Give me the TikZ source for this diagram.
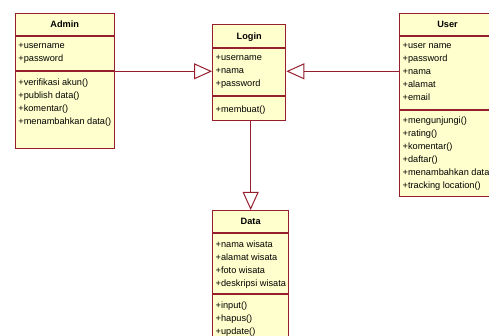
\documentclass[tikz,border=0pt]{standalone}
\usepackage{fontspec}
\setmainfont{Liberation Sans}
\usetikzlibrary{arrows.meta, positioning}
\definecolor{classfill}{RGB}{255,255,206}
\definecolor{classline}{RGB}{150,30,45}

\begin{document}
\begin{tikzpicture}[x=1pt, y=-1pt, font=\fontsize{9.2}{13}\selectfont,
    part/.style={rectangle, draw=classline, fill=classfill, line width=1pt, inner sep=0pt},
    head/.style={part, font=\fontsize{9.2}{13}\selectfont\bfseries, text height=6.5pt, text depth=0pt, anchor=north west},
    members/.style={anchor=north west, align=left, inner xsep=3.5pt, inner ysep=7pt, execute at begin node=\strut},
    gen/.style={draw=classline, line width=1pt, -{Triangle[length=18pt, width=16pt, fill=white]}}]
  \useasboundingbox (0,0) rectangle (489,336);

  % Admin
  \node[head, minimum width=99pt, minimum height=22pt] (adminH) at (14.7,12.7) {Admin};
  \node[part, minimum width=99pt, minimum height=34.6pt, below=0pt of adminH] (adminA) {};
  \node[part, minimum width=99pt, minimum height=76.4pt, below=0pt of adminA] (adminM) {};
  \node[members] (adminAt) at (adminA.north west) {+username\\+password};
  \node[members] (adminMt) at (adminM.north west) {+verifikasi akun()\\+publish data()\\+komentar()\\+menambahkan data()};

  % Login
  \node[head, minimum width=73.3pt, minimum height=22.4pt] (loginH) at (212,24.3) {Login};
  \node[part, minimum width=73.3pt, minimum height=47.3pt, below=0pt of loginH] (loginA) {};
  \node[part, minimum width=73.3pt, minimum height=24.3pt, below=0pt of loginA] (loginM) {};
  \node[members] (loginAt) at (loginA.north west) {+username\\+nama\\+password};
  \node[members] (loginMt) at (loginM.north west) {+membuat()};

  % User
  \node[head, minimum width=96pt, minimum height=22pt, text width=90pt, align=center] (userH) at (399,12.7) {User};
  \node[part, minimum width=96pt, minimum height=73.3pt, below=0pt of userH] (userA) {};
  \node[part, minimum width=96pt, minimum height=86.3pt, below=0pt of userA] (userM) {};
  \node[members] (userAt) at (userA.north west) {+user name\\+password\\+nama\\+alamat\\+email};
  \node[members] (userMt) at (userM.north west) {+mengunjungi()\\+rating()\\+komentar()\\+daftar()\\+menambahkan data\\+tracking location()};

  % Data
  \node[head, minimum width=76.3pt, minimum height=22.3pt] (dataH) at (212,210) {Data};
  \node[part, minimum width=76.3pt, minimum height=60pt, below=0pt of dataH] (dataA) {};
  \node[part, minimum width=76.3pt, minimum height=50pt, below=0pt of dataA] (dataM) {};
  \node[members] (dataAt) at (dataA.north west) {+nama wisata\\+alamat wisata\\+foto wisata\\+deskripsi wisata};
  \node[members] (dataMt) at (dataM.north west) {+input()\\+hapus()\\+update()};

  % generalisasi
  \draw[gen] (adminA.south east) -- (adminA.south east -| loginA.west);
  \draw[gen] (userA.west |- adminA.south east) -- (adminA.south east -| loginA.east);
  \draw[gen] (loginM.south -| dataH.north) -- (dataH.north);
\end{tikzpicture}
\end{document}
